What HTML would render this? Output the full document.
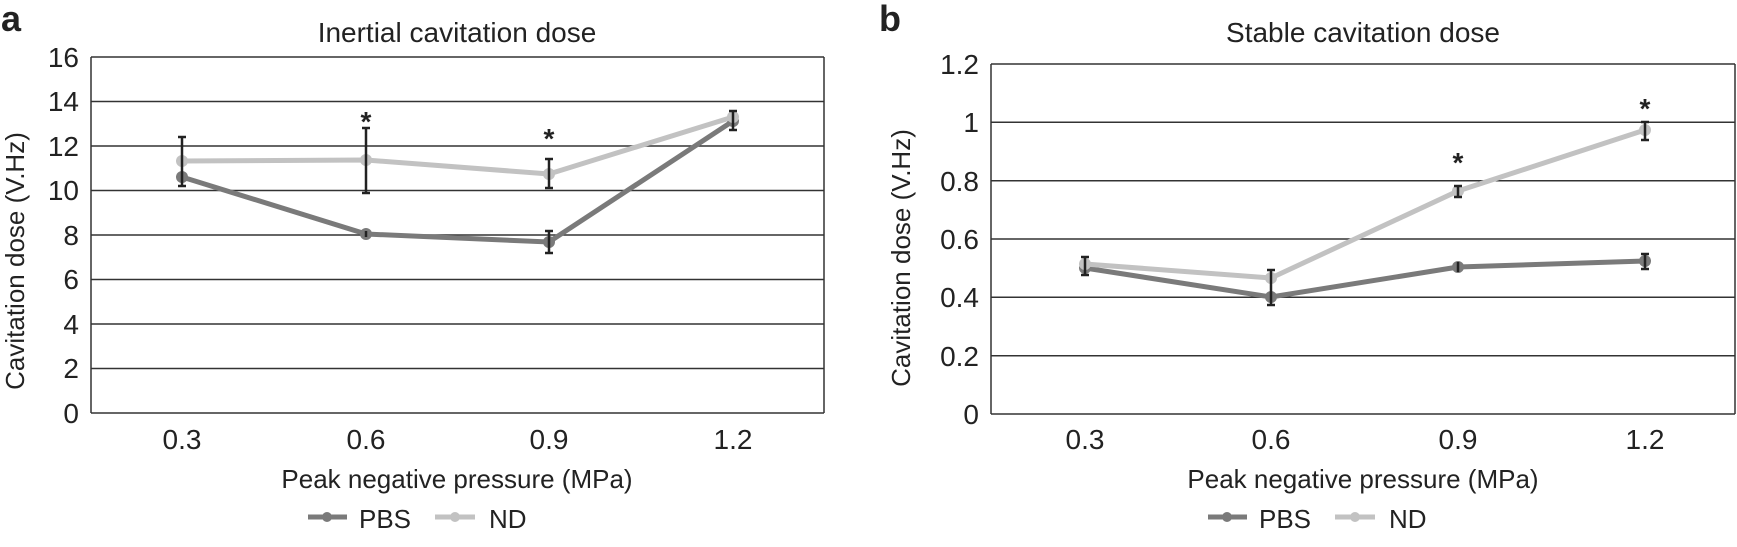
<!DOCTYPE html>
<html><head><meta charset="utf-8"><style>
html,body{margin:0;padding:0;background:#fff}
svg{display:block}
text{font-family:"Liberation Sans",sans-serif;fill:#222}
</style></head><body>
<svg width="1737" height="547" viewBox="0 0 1737 547" xmlns="http://www.w3.org/2000/svg">
<!-- Panel a -->
<text x="1" y="31" font-size="36" font-weight="bold">a</text>
<text x="457" y="42" font-size="28" text-anchor="middle">Inertial cavitation dose</text>
<g stroke="#333" stroke-width="1.5">
<line x1="91" y1="57" x2="824" y2="57"/><line x1="91" y1="101.5" x2="824" y2="101.5"/>
<line x1="91" y1="146" x2="824" y2="146"/><line x1="91" y1="190.5" x2="824" y2="190.5"/>
<line x1="91" y1="235" x2="824" y2="235"/><line x1="91" y1="279.5" x2="824" y2="279.5"/>
<line x1="91" y1="324" x2="824" y2="324"/><line x1="91" y1="368.5" x2="824" y2="368.5"/>
<line x1="91" y1="413" x2="824" y2="413"/>
<line x1="91" y1="57" x2="91" y2="413"/><line x1="824" y1="57" x2="824" y2="413"/>
</g>
<g font-size="28" text-anchor="end">
<text x="79" y="67">16</text><text x="79" y="111">14</text><text x="79" y="156">12</text>
<text x="79" y="200">10</text><text x="79" y="245">8</text><text x="79" y="289">6</text>
<text x="79" y="334">4</text><text x="79" y="378">2</text><text x="79" y="423">0</text>
</g>
<g font-size="28" text-anchor="middle">
<text x="182" y="449">0.3</text><text x="366" y="449">0.6</text><text x="549" y="449">0.9</text><text x="733" y="449">1.2</text>
<text x="457" y="488" font-size="26">Peak negative pressure (MPa)</text>
</g>
<text transform="translate(24,261) rotate(-90)" font-size="26" text-anchor="middle">Cavitation dose (V.Hz)</text>
<!-- PBS a -->
<polyline points="182,177 366,234 549,242 733,121" fill="none" stroke="#7a7a7a" stroke-width="5"/>
<g fill="#7a7a7a"><circle cx="182" cy="177" r="6"/><circle cx="366" cy="234" r="6"/><circle cx="549" cy="242" r="6"/><circle cx="733" cy="121" r="6"/></g>
<!-- ND a -->
<polyline points="182,161 366,160 549,174 733,117" fill="none" stroke="#c2c2c2" stroke-width="5"/>
<g fill="#c2c2c2"><circle cx="182" cy="161" r="6"/><circle cx="366" cy="160" r="6"/><circle cx="549" cy="174" r="6"/><circle cx="733" cy="117" r="6"/></g>
<g stroke="#222" stroke-width="2.5">
<line x1="182" y1="137" x2="182" y2="186"/><line x1="178" y1="137" x2="186" y2="137"/><line x1="178" y1="186" x2="186" y2="186"/>
<line x1="366" y1="128" x2="366" y2="193"/><line x1="362" y1="128" x2="370" y2="128"/><line x1="362" y1="193" x2="370" y2="193"/>
<line x1="366" y1="231" x2="366" y2="237"/>
<line x1="549" y1="159" x2="549" y2="188"/><line x1="545" y1="159" x2="553" y2="159"/><line x1="545" y1="188" x2="553" y2="188"/>
<line x1="549" y1="231" x2="549" y2="253"/><line x1="545" y1="231" x2="553" y2="231"/><line x1="545" y1="253" x2="553" y2="253"/>
<line x1="733" y1="111" x2="733" y2="130"/><line x1="729" y1="111" x2="737" y2="111"/><line x1="729" y1="130" x2="737" y2="130"/>
</g>
<g font-size="28" font-weight="bold" text-anchor="middle"><text x="366" y="131">*</text><text x="549" y="148">*</text></g>
<!-- legend a -->
<line x1="308" y1="517" x2="347" y2="517" stroke="#7a7a7a" stroke-width="5"/><circle cx="327" cy="517" r="5" fill="#7a7a7a"/>
<text x="359" y="528" font-size="26">PBS</text>
<line x1="435" y1="517" x2="475" y2="517" stroke="#c2c2c2" stroke-width="5"/><circle cx="455" cy="517" r="5" fill="#c2c2c2"/>
<text x="489" y="528" font-size="26">ND</text>

<!-- Panel b -->
<text x="879" y="31" font-size="36" font-weight="bold">b</text>
<text x="1363" y="42" font-size="28" text-anchor="middle">Stable cavitation dose</text>
<g stroke="#333" stroke-width="1.5">
<line x1="991" y1="64" x2="1735" y2="64"/><line x1="991" y1="122.3" x2="1735" y2="122.3"/>
<line x1="991" y1="180.7" x2="1735" y2="180.7"/><line x1="991" y1="239" x2="1735" y2="239"/>
<line x1="991" y1="297.3" x2="1735" y2="297.3"/><line x1="991" y1="355.7" x2="1735" y2="355.7"/>
<line x1="991" y1="414" x2="1735" y2="414"/>
<line x1="991" y1="64" x2="991" y2="414"/><line x1="1735" y1="64" x2="1735" y2="414"/>
</g>
<g font-size="28" text-anchor="end">
<text x="979" y="74">1.2</text><text x="979" y="132">1</text><text x="979" y="191">0.8</text>
<text x="979" y="249">0.6</text><text x="979" y="307">0.4</text><text x="979" y="366">0.2</text><text x="979" y="424">0</text>
</g>
<g font-size="28" text-anchor="middle">
<text x="1085" y="449">0.3</text><text x="1271" y="449">0.6</text><text x="1458" y="449">0.9</text><text x="1645" y="449">1.2</text>
<text x="1363" y="488" font-size="26">Peak negative pressure (MPa)</text>
</g>
<text transform="translate(910,258) rotate(-90)" font-size="26" text-anchor="middle">Cavitation dose (V.Hz)</text>
<!-- PBS b -->
<polyline points="1085,268 1271,297 1458,267 1645,261" fill="none" stroke="#7a7a7a" stroke-width="5"/>
<g fill="#7a7a7a"><circle cx="1085" cy="268" r="6"/><circle cx="1271" cy="297" r="6"/><circle cx="1458" cy="267" r="6"/><circle cx="1645" cy="261" r="6"/></g>
<!-- ND b -->
<polyline points="1085,264 1271,278 1458,191 1645,130" fill="none" stroke="#c2c2c2" stroke-width="5"/>
<g fill="#c2c2c2"><circle cx="1085" cy="264" r="6"/><circle cx="1271" cy="278" r="6"/><circle cx="1458" cy="191" r="6"/><circle cx="1645" cy="130" r="6"/></g>
<g stroke="#222" stroke-width="2.5">
<line x1="1085" y1="257" x2="1085" y2="275"/><line x1="1081" y1="257" x2="1089" y2="257"/><line x1="1081" y1="275" x2="1089" y2="275"/>
<line x1="1271" y1="270" x2="1271" y2="305"/><line x1="1267" y1="270" x2="1275" y2="270"/><line x1="1267" y1="305" x2="1275" y2="305"/>
<line x1="1458" y1="186" x2="1458" y2="197"/><line x1="1454" y1="186" x2="1462" y2="186"/><line x1="1454" y1="197" x2="1462" y2="197"/>
<line x1="1458" y1="262" x2="1458" y2="272"/>
<line x1="1645" y1="122" x2="1645" y2="140"/><line x1="1641" y1="122" x2="1649" y2="122"/><line x1="1641" y1="140" x2="1649" y2="140"/>
<line x1="1645" y1="254" x2="1645" y2="269"/><line x1="1641" y1="254" x2="1649" y2="254"/><line x1="1641" y1="269" x2="1649" y2="269"/>
</g>
<g font-size="28" font-weight="bold" text-anchor="middle"><text x="1458" y="172">*</text><text x="1645" y="118">*</text></g>
<!-- legend b -->
<line x1="1208" y1="517" x2="1247" y2="517" stroke="#7a7a7a" stroke-width="5"/><circle cx="1227" cy="517" r="5" fill="#7a7a7a"/>
<text x="1259" y="528" font-size="26">PBS</text>
<line x1="1335" y1="517" x2="1375" y2="517" stroke="#c2c2c2" stroke-width="5"/><circle cx="1355" cy="517" r="5" fill="#c2c2c2"/>
<text x="1389" y="528" font-size="26">ND</text>
</svg>
</body></html>
